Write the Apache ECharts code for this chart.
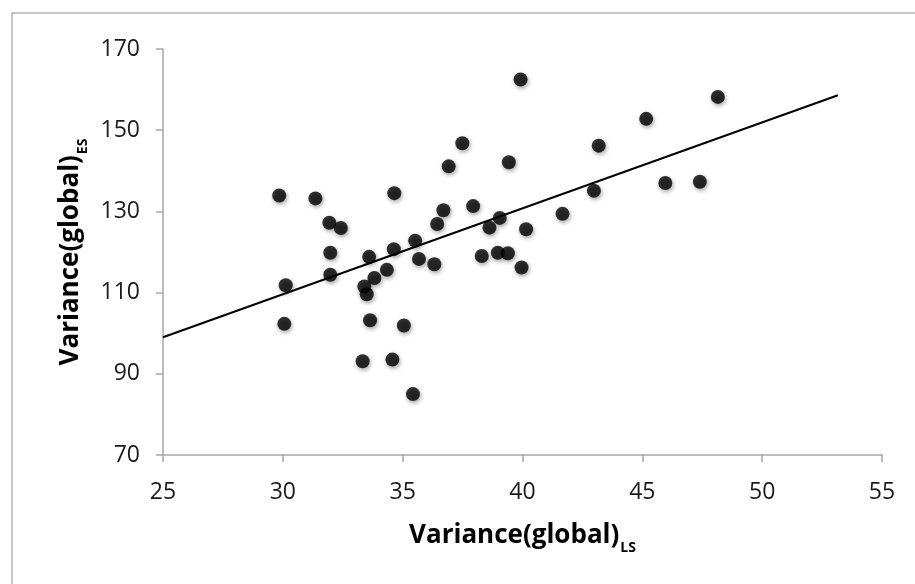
<!DOCTYPE html>
<html>
<head>
<meta charset="utf-8">
<title>Variance scatter</title>
<script src="https://cdn.jsdelivr.net/npm/echarts@6/dist/echarts.min.js"></script>
<style>
  html, body { margin: 0; padding: 0; background: #fff; }
  #chart { width: 915px; height: 584px; }
</style>
</head>
<body>
<div id="chart"></div>
<script>
  // values
  var varLS = [29.85, 30.12, 30.06, 31.36, 31.94, 32.42, 31.98, 31.98, 33.40, 33.50,
    33.64, 33.33, 33.60, 33.82, 34.34, 34.63, 34.65, 34.57, 35.05, 35.43,
    35.52, 35.68, 36.32, 36.44, 36.70, 36.92, 37.49, 37.94, 38.30, 38.62,
    39.05, 38.97, 39.39, 39.43, 39.92, 39.96, 40.15, 41.67, 42.98, 43.18,
    45.16, 45.96, 47.40, 48.15]
  var varES = [133.9, 111.8, 102.3, 133.2, 127.2, 125.9, 119.8, 114.4, 111.5, 109.6,
    103.2, 93.1, 118.8, 113.6, 115.6, 120.7, 134.5, 93.5, 101.9, 85.0,
    122.8, 118.3, 117.0, 126.9, 130.3, 141.1, 146.8, 131.3, 119.0, 126.0,
    128.4, 119.8, 119.7, 142.1, 162.5, 116.2, 125.6, 129.4, 135.1, 146.2,
    152.8, 137.0, 137.3, 158.2]
  // linear trend line end points
  var trendX = [25, 53.16]
  var trendY = [99.0, 158.6]

  var xTicks = [25, 30, 35, 40, 45, 50, 55]
  var yTicks = [70, 90, 110, 130, 150, 170]

  var points = varLS.map(function (x, i) { return [x, varES[i]] })
  var trend = trendX.map(function (x, i) { return [x, trendY[i]] })

  var chart = echarts.init(document.getElementById('chart'))

  var titleRich = {
    main: { fontFamily: 'Open Sans', fontWeight: 'bold', fontSize: 26, color: '#000', lineHeight: 32, verticalAlign: 'top' },
    sub: { fontFamily: 'Open Sans', fontWeight: 'bold', fontSize: 14, color: '#000', lineHeight: 18, padding: [18, 0, 0, 1], verticalAlign: 'bottom' }
  }

  chart.setOption({
    animation: false,
    backgroundColor: '#fff',
    graphic: [{
      type: 'rect',
      shape: { x: 12, y: 13, width: 1000, height: 1000 },
      style: { fill: 'none', stroke: '#b5b5b5', lineWidth: 1.5 },
      silent: true
    }],
    grid: { left: 163, top: 49, right: 33, bottom: 129 },
    xAxis: {
      type: 'value',
      min: xTicks[0],
      max: xTicks[xTicks.length - 1],
      interval: 5,
      name: '{main|Variance(global)}{sub|LS}',
      nameLocation: 'middle',
      nameGap: 68,
      nameTextStyle: { rich: titleRich },
      axisLine: { show: true, lineStyle: { color: '#a6a6a6', width: 1.5 } },
      axisTick: { show: true, length: 7, lineStyle: { color: '#a6a6a6', width: 1.5 } },
      axisLabel: { margin: 26, fontFamily: 'Open Sans', fontSize: 23, color: '#1a1a1a' },
      splitLine: { show: false }
    },
    yAxis: {
      type: 'value',
      min: yTicks[0],
      max: yTicks[yTicks.length - 1],
      interval: 20,
      name: '{main|Variance(global)}{sub|ES}',
      nameLocation: 'middle',
      nameRotate: 90,
      nameGap: 71,
      nameTextStyle: { rich: titleRich },
      axisLine: { show: true, lineStyle: { color: '#a6a6a6', width: 1.5 } },
      axisTick: { show: true, length: 7, lineStyle: { color: '#a6a6a6', width: 1.5 } },
      axisLabel: { margin: 23, fontFamily: 'Open Sans', fontSize: 23, color: '#1a1a1a' },
      splitLine: { show: false }
    },
    series: [
      {
        type: 'line',
        data: trend,
        symbol: 'none',
        z: 2,
        lineStyle: { color: '#000', width: 2 }
      },
      {
        type: 'scatter',
        data: points,
        symbol: 'circle',
        symbolSize: 14,
        z: 3,
        itemStyle: {
          color: '#000',
          shadowBlur: 4,
          shadowColor: 'rgba(0,0,0,0.45)',
          shadowOffsetX: 1,
          shadowOffsetY: 2
        }
      }
    ]
  })
</script>
</body>
</html>
